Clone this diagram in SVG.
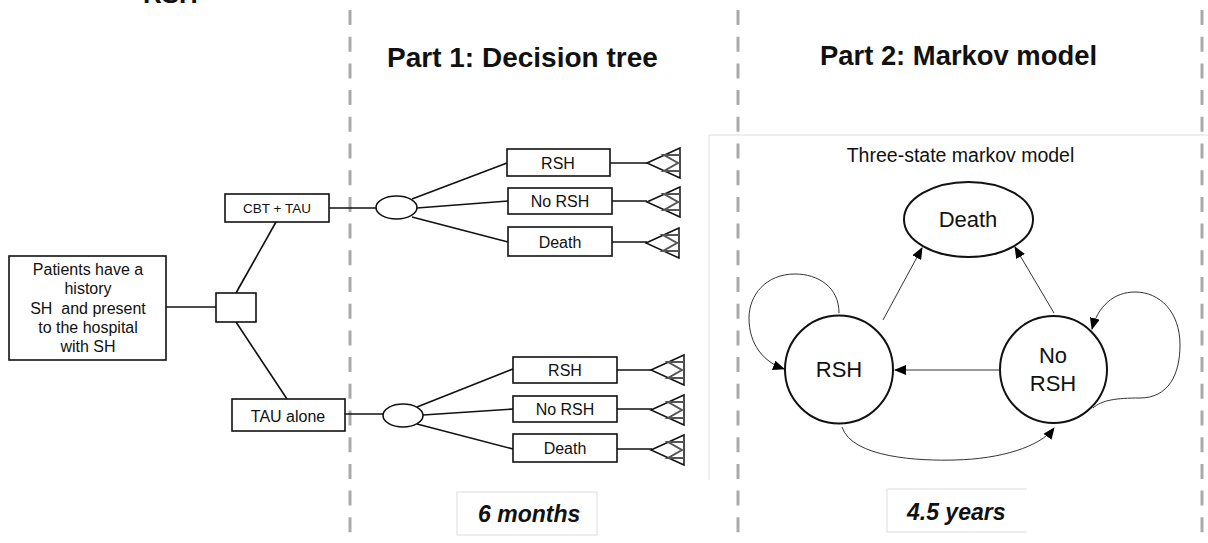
<svg xmlns="http://www.w3.org/2000/svg" width="1208" height="543" viewBox="0 0 1208 543">
<style>
  text { font-family: "Liberation Sans", Arial, sans-serif; fill: #111; }
  .box { fill: #fff; stroke: #111; stroke-width: 1.6; }
  .ln { stroke: #111; stroke-width: 1.6; fill: none; }
  .div { stroke: #aaa; stroke-width: 3; stroke-dasharray: 15 11.7; }
  .tri { fill: #fff; stroke: #111; stroke-width: 1.5; }
  .zz { fill: none; stroke: #555; stroke-width: 2; }
  .st { fill: #fff; stroke: #111; stroke-width: 2; }
  .arr { fill: none; stroke: #333; stroke-width: 1; marker-end: url(#ah); }
  .title { font-weight: bold; font-size: 28px; }
  .lbl { font-size: 16px; text-anchor: middle; }
  .mk { font-size: 22px; text-anchor: middle; }
  .dur { font-weight: bold; font-style: italic; font-size: 23px; }
  .frame { fill: none; stroke: #ddd; stroke-width: 1; }
</style>
<defs>
  <marker id="ah" markerWidth="12" markerHeight="10" refX="11" refY="5" orient="auto" markerUnits="userSpaceOnUse">
    <path d="M0,0 L12,5 L0,10 Z" fill="#000"/>
  </marker>
  <g id="term">
    <polygon class="tri" points="0,0 33,-15 33,15"/>
    <polyline class="zz" points="33,-8 17,-8 31,0 17,8 33,8"/>
  </g>
</defs>
<rect width="1208" height="543" fill="#fff"/>

<g id="dividers">
  <line class="div" x1="350" y1="10" x2="350" y2="543"/>
  <line class="div" x1="738" y1="10" x2="738" y2="543"/>
  <line class="div" x1="1202" y1="10" x2="1202" y2="543"/>
</g>

<text x="143" y="3" font-weight="bold" font-size="26">RSH</text>
<text class="title" x="387" y="67">Part 1: Decision tree</text>
<text class="title" x="820" y="65" textLength="277" lengthAdjust="spacingAndGlyphs">Part 2: Markov model</text>

<g id="connectors">
  <line class="ln" x1="166" y1="307" x2="216" y2="307"/>
  <line class="ln" x1="236" y1="293" x2="276" y2="222"/>
  <line class="ln" x1="236" y1="322" x2="287" y2="399"/>
  <line class="ln" x1="329" y1="208" x2="376" y2="208"/>
  <line class="ln" x1="412" y1="199" x2="507" y2="163"/>
  <line class="ln" x1="417" y1="208" x2="508" y2="201"/>
  <line class="ln" x1="412" y1="217" x2="508" y2="242"/>
  <line class="ln" x1="610" y1="163" x2="647" y2="163"/>
  <line class="ln" x1="612" y1="201" x2="647" y2="201"/>
  <line class="ln" x1="612" y1="242" x2="647" y2="242"/>
  <line class="ln" x1="345" y1="414" x2="383" y2="414"/>
  <line class="ln" x1="417" y1="407" x2="513" y2="369"/>
  <line class="ln" x1="423" y1="415" x2="513" y2="409"/>
  <line class="ln" x1="417" y1="424" x2="513" y2="449"/>
  <line class="ln" x1="617" y1="370" x2="652" y2="370"/>
  <line class="ln" x1="617" y1="409" x2="652" y2="409"/>
  <line class="ln" x1="617" y1="449" x2="652" y2="449"/>
</g>

<g id="root">
  <rect class="box" x="9" y="256" width="157" height="104"/>
  <text class="lbl" x="88" y="275" font-size="17">Patients have a</text>
  <text class="lbl" x="88" y="294" font-size="17">history</text>
  <text class="lbl" x="88" y="314" font-size="17" xml:space="preserve" style="white-space:pre">SH  and present</text>
  <text class="lbl" x="88" y="333" font-size="17">to the hospital</text>
  <text class="lbl" x="88" y="352" font-size="17">with SH</text>
</g>
<g id="decision"><rect class="box" x="216" y="293" width="40" height="29"/></g>
<g id="cbt">
  <rect class="box" x="225" y="194" width="104" height="28"/>
  <text x="277" y="213" font-size="13.5" text-anchor="middle" font-family="'Open Sans', sans-serif">CBT + TAU</text>
</g>
<g id="tau">
  <rect class="box" x="232" y="399" width="113" height="32"/>
  <text class="lbl" x="288" y="422" font-size="17">TAU alone</text>
</g>
<g id="chance1"><ellipse class="box" cx="396.5" cy="207.5" rx="20.5" ry="11.5"/></g>
<g id="chance2"><ellipse class="box" cx="403" cy="415.5" rx="20" ry="11.5"/></g>

<g id="c1-rsh"><rect class="box" x="507" y="149" width="103" height="27"/><text class="lbl" x="558" y="169">RSH</text></g>
<g id="c1-norsh"><rect class="box" x="508" y="188" width="104" height="26"/><text class="lbl" x="560" y="207">No RSH</text></g>
<g id="c1-death"><rect class="box" x="508" y="227" width="104" height="29"/><text class="lbl" x="560" y="248">Death</text></g>
<g id="c2-rsh"><rect class="box" x="513" y="357" width="104" height="26"/><text class="lbl" x="565" y="376">RSH</text></g>
<g id="c2-norsh"><rect class="box" x="513" y="396" width="104" height="26"/><text class="lbl" x="565" y="415">No RSH</text></g>
<g id="c2-death"><rect class="box" x="513" y="434" width="104" height="28"/><text class="lbl" x="565" y="454">Death</text></g>

<g id="terminals">
  <use href="#term" x="647" y="163"/>
  <use href="#term" x="647" y="202"/>
  <use href="#term" x="646" y="243"/>
  <use href="#term" x="651" y="370"/>
  <use href="#term" x="651" y="410"/>
  <use href="#term" x="651" y="450"/>
</g>

<g id="markov-frame">
  <polyline class="frame" points="709,480 709,135 1208,135"/>
  <text x="960.5" y="162" font-size="19.5" text-anchor="middle">Three-state markov model</text>
</g>

<g id="markov-arrows">
  <line class="arr" x1="883" y1="320" x2="922" y2="248"/>
  <line class="arr" x1="1054" y1="313" x2="1015" y2="247"/>
  <line class="arr" x1="1000" y1="370" x2="895" y2="370"/>
  <path class="arr" d="M 839 313 C 839 287, 818 274, 795 274 C 766 274, 749 295, 749 318 C 749 345, 764 362, 784 369"/>
  <path class="arr" d="M 1093 408 C 1102 400, 1116 398, 1140 398 C 1168 398, 1180 375, 1180 345 C 1180 312, 1160 292, 1135 292 C 1114 292, 1098 306, 1092 329"/>
  <path class="arr" d="M 842 427 C 852 458, 920 461, 955 460 C 1000 459, 1040 447, 1054 428"/>
</g>

<g id="death-state">
  <ellipse class="st" cx="968.5" cy="219.5" rx="64.5" ry="37.5"/>
  <text class="mk" x="968" y="227">Death</text>
</g>
<g id="rsh-state">
  <circle class="st" cx="839" cy="369.5" r="54"/>
  <text class="mk" x="839" y="377">RSH</text>
</g>
<g id="norsh-state">
  <circle class="st" cx="1053.5" cy="369.5" r="53.5"/>
  <text class="mk" x="1053" y="363">No</text>
  <text class="mk" x="1053" y="391">RSH</text>
</g>

<g id="dur1">
  <rect x="457" y="492" width="140" height="43" fill="#fff" stroke="#ddd" stroke-width="1"/>
  <text class="dur" x="478" y="522">6 months</text>
</g>
<g id="dur2">
  <polyline points="1027,489 887,489 887,532 1027,532" fill="#fff" stroke="#ddd" stroke-width="1"/>
  <text class="dur" x="907" y="520">4.5 years</text>
</g>
</svg>
